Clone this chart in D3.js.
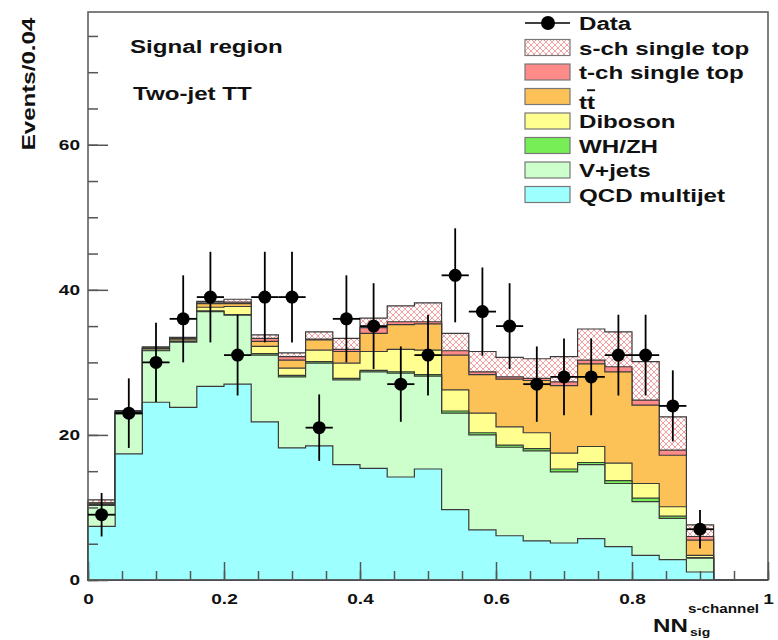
<!DOCTYPE html>
<html>
<head>
<meta charset="utf-8">
<script src="https://cdn.jsdelivr.net/npm/d3@7"></script>
<style>
body { margin: 0; background: #fff; }
text { font-family: "Liberation Sans", Arial, sans-serif; font-weight: bold; fill: #111; }
</style>
</head>
<body>
<script>
// bin lower edges (width 0.04)
var binLow = [0, 0.04, 0.08, 0.12, 0.16, 0.2, 0.24, 0.28, 0.32, 0.36, 0.4, 0.44, 0.48,
              0.52, 0.56, 0.6, 0.64, 0.68, 0.72, 0.76, 0.8, 0.84, 0.88, 0.92, 0.96];
var binWidth = 0.04;

var dataCounts = [9, 23, 30, 36, 39, 31, 39, 39, 21, 36, 35, 27, 31, 42, 37, 35, 27, 28, 28, 31, 31, 24, 7, 0, 0];

var qcd     = [7.4, 17.4, 24.5, 23.8, 26.7, 27.0, 21.8, 18.2, 18.5, 15.9, 15.4, 14.2, 15.3, 9.7, 6.9, 6.1, 5.4, 5.1, 5.7, 4.6, 3.4, 2.8, 1.1, 0, 0];
var vjets   = [2.9, 5.5, 7.1, 9.0, 10.3, 9.5, 9.2, 9.8, 11.4, 11.7, 13.3, 14.3, 12.8, 13.3, 13.1, 12.2, 12.4, 9.8, 10.2, 8.7, 7.4, 5.7, 1.9, 0, 0];
var whzh    = [0.1, 0.1, 0.1, 0.1, 0.1, 0.1, 0.2, 0.2, 0.2, 0.2, 0.2, 0.2, 0.2, 0.3, 0.3, 0.3, 0.3, 0.4, 0.3, 0.4, 0.5, 0.3, 0.1, 0, 0];
var diboson = [0.1, 0.1, 0.2, 0.2, 0.5, 1.1, 1.0, 1.0, 1.6, 2.1, 2.6, 3.1, 3.4, 2.9, 2.7, 2.5, 2.2, 2.2, 2.2, 2.4, 2.0, 1.3, 0.3, 0, 0];
var ttbar   = [0.1, 0.1, 0.1, 0.2, 0.5, 0.4, 0.7, 1.1, 1.4, 1.6, 2.5, 3.4, 3.6, 4.8, 5.3, 6.6, 7.2, 9.3, 11.4, 12.6, 10.8, 7.1, 2.1, 0, 0];
var tchan   = [0.05, 0.05, 0.05, 0.05, 0.1, 0.2, 0.4, 0.5, 0.1, 0.3, 0.8, 0.4, 0.3, 0.6, 0.4, 0.3, 0.3, 0.5, 0.5, 0.7, 0.7, 0.7, 0.5, 0, 0];
var schan   = [0.4, 0.1, 0.1, 0.1, 0.2, 0.4, 0.5, 0.5, 1.0, 1.5, 1.3, 2.2, 2.6, 2.4, 2.8, 2.7, 2.7, 3.5, 4.3, 4.8, 5.3, 4.6, 1.6, 0, 0];

var layerKeys   = ["qcd", "vjets", "whzh", "diboson", "ttbar", "tchan", "schan"];
var layerNames  = ["QCD multijet", "V+jets", "WH/ZH", "Diboson", "tt", "t-ch single top", "s-ch single top"];
var layerColors = ["#9effff", "#ccffcc", "#77ee55", "#ffff90", "#fcc258", "#ff8a8a", "url(#hatch)"];

var xTicks = [0, 0.2, 0.4, 0.6, 0.8, 1];
var yTicks = [0, 20, 40, 60];

var sx = 1.27; // text stretch along reading direction

var svg = d3.select("body").append("svg")
    .attr("width", 778).attr("height", 640);

var defs = svg.append("defs");
var pat = defs.append("pattern").attr("id", "hatch")
    .attr("width", 6).attr("height", 6).attr("patternUnits", "userSpaceOnUse");
pat.append("rect").attr("width", 6).attr("height", 6).attr("fill", "#fff");
pat.append("path").attr("d", "M0,0L6,6M6,0L0,6")
    .attr("stroke", "#f5a0a0").attr("stroke-width", 1);

var x = d3.scaleLinear().domain([0, 1]).range([88, 768]);
var y = d3.scaleLinear().domain([0, 78.3]).range([580, 12]);

var rows = binLow.map(function(lo, i) {
  return {lo: lo, qcd: qcd[i], vjets: vjets[i], whzh: whzh[i], diboson: diboson[i],
          ttbar: ttbar[i], tchan: tchan[i], schan: schan[i]};
});
var stacked = d3.stack().keys(layerKeys)(rows);

var area = d3.area()
    .curve(d3.curveStepAfter)
    .x(function(d) { return x(d.e); })
    .y0(y(0))
    .y1(function(d) { return y(d.v); });

// ROOT style: draw cumulative histograms from the top one down
var histGroup = svg.append("g");
for (var k = stacked.length - 1; k >= 0; k--) {
  var pts = stacked[k].map(function(s, i) { return {e: binLow[i], v: s[1]}; });
  pts.push({e: binLow[binLow.length - 1] + binWidth, v: stacked[k][stacked[k].length - 1][1]});
  histGroup.append("path")
    .datum(pts)
    .attr("d", area)
    .attr("fill", layerColors[k])
    .attr("stroke", "#3a3a3a")
    .attr("stroke-width", 1.2);
}

// axes
var yAxis = d3.axisLeft(y).tickValues(yTicks).tickSizeInner(-20).tickSizeOuter(0).tickPadding(8);
var yMinor = d3.axisLeft(y).tickValues(d3.range(0, 80, 5)).tickSizeInner(-10).tickSizeOuter(0).tickFormat("");
var xAxis = d3.axisBottom(x).tickValues(xTicks).tickSizeInner(-18).tickSizeOuter(0).tickPadding(13)
    .tickFormat(d3.format("~g"));
var xMinor = d3.axisBottom(x).tickValues(d3.range(0, 1.001, 0.05)).tickSizeInner(-9).tickSizeOuter(0).tickFormat("");

function styleAxis(g) {
  g.select(".domain").remove();
  g.selectAll("line").attr("stroke", "#555").attr("stroke-width", 1.5);
  g.selectAll("text").attr("font-size", 15).attr("fill", "#111")
    .style("font-family", "'Liberation Sans', Arial, sans-serif").style("font-weight", "bold");
}

var gy = svg.append("g").attr("transform", "translate(" + x(0) + ",0)").call(yAxis).call(styleAxis);
gy.selectAll("text").attr("x", 0).attr("transform", "translate(-8,0) scale(" + sx + ",1)");
svg.append("g").attr("transform", "translate(" + x(0) + ",0)").call(yMinor).call(styleAxis);

var gx = svg.append("g").attr("transform", "translate(0," + y(0) + ")").call(xAxis).call(styleAxis);
gx.selectAll("text").attr("transform", "scale(" + sx + ",1)");
svg.append("g").attr("transform", "translate(0," + y(0) + ")").call(xMinor).call(styleAxis);

// frame
svg.append("rect")
  .attr("x", x(0)).attr("y", y(78.3))
  .attr("width", x(1) - x(0)).attr("height", y(0) - y(78.3))
  .attr("fill", "none").attr("stroke", "#555").attr("stroke-width", 1.5);

// data points with sqrt(N) errors
var pts = dataCounts.map(function(n, i) { return {n: n, lo: binLow[i]}; })
  .filter(function(d) { return d.n > 0; });
var dg = svg.append("g");
dg.selectAll(".ev").data(pts).enter().append("line")
  .attr("x1", function(d) { return x(d.lo + binWidth / 2); })
  .attr("x2", function(d) { return x(d.lo + binWidth / 2); })
  .attr("y1", function(d) { return y(d.n - Math.sqrt(d.n)); })
  .attr("y2", function(d) { return y(d.n + Math.sqrt(d.n)); })
  .attr("stroke", "#000").attr("stroke-width", 1.8);
dg.selectAll(".eh").data(pts).enter().append("line")
  .attr("x1", function(d) { return x(d.lo); })
  .attr("x2", function(d) { return x(d.lo + binWidth); })
  .attr("y1", function(d) { return y(d.n); })
  .attr("y2", function(d) { return y(d.n); })
  .attr("stroke", "#000").attr("stroke-width", 1.8);
dg.selectAll("circle").data(pts).enter().append("circle")
  .attr("cx", function(d) { return x(d.lo + binWidth / 2); })
  .attr("cy", function(d) { return y(d.n); })
  .attr("r", 6.5).attr("fill", "#000");

// labels
function stretchedText(g, tx, ty, str, size, rot) {
  return g.append("text")
    .attr("transform", "translate(" + tx + "," + ty + ")" + (rot ? " rotate(" + rot + ")" : "") + " scale(" + sx + ",1)")
    .attr("font-size", size)
    .text(str);
}

stretchedText(svg, 130, 53, "Signal region", 19);
stretchedText(svg, 133, 100, "Two-jet TT", 19);
stretchedText(svg, 35, 84, "Events/0.04", 19, -90).attr("text-anchor", "middle");

stretchedText(svg, 653, 632, "NN", 19);
stretchedText(svg, 688, 613, "s-channel", 12);
stretchedText(svg, 690, 636, "sig", 11);

// legend
var lg = svg.append("g");
var legY0 = 23, legStep = 24.5;
lg.append("line").attr("x1", 525).attr("x2", 570).attr("y1", legY0).attr("y2", legY0)
  .attr("stroke", "#000").attr("stroke-width", 1.5);
lg.append("circle").attr("cx", 548).attr("cy", legY0).attr("r", 7).attr("fill", "#000");
stretchedText(lg, 579, legY0 + 7, "Data", 19);

var legOrder = [6, 5, 4, 3, 2, 1, 0];
legOrder.forEach(function(k, j) {
  var cy = legY0 + legStep * (j + 1);
  lg.append("rect").attr("x", 525).attr("y", cy - 8).attr("width", 45).attr("height", 16)
    .attr("fill", layerColors[k]).attr("stroke", "#777").attr("stroke-width", 1.2);
  if (layerKeys[k] === "ttbar") {
    var t = stretchedText(lg, 579, cy + 12, "t", 19);
    t.append("tspan").style("text-decoration", "overline").text("t");
  } else {
    stretchedText(lg, 579, cy + 7, layerNames[k], 19);
  }
});
</script>
</body>
</html>
